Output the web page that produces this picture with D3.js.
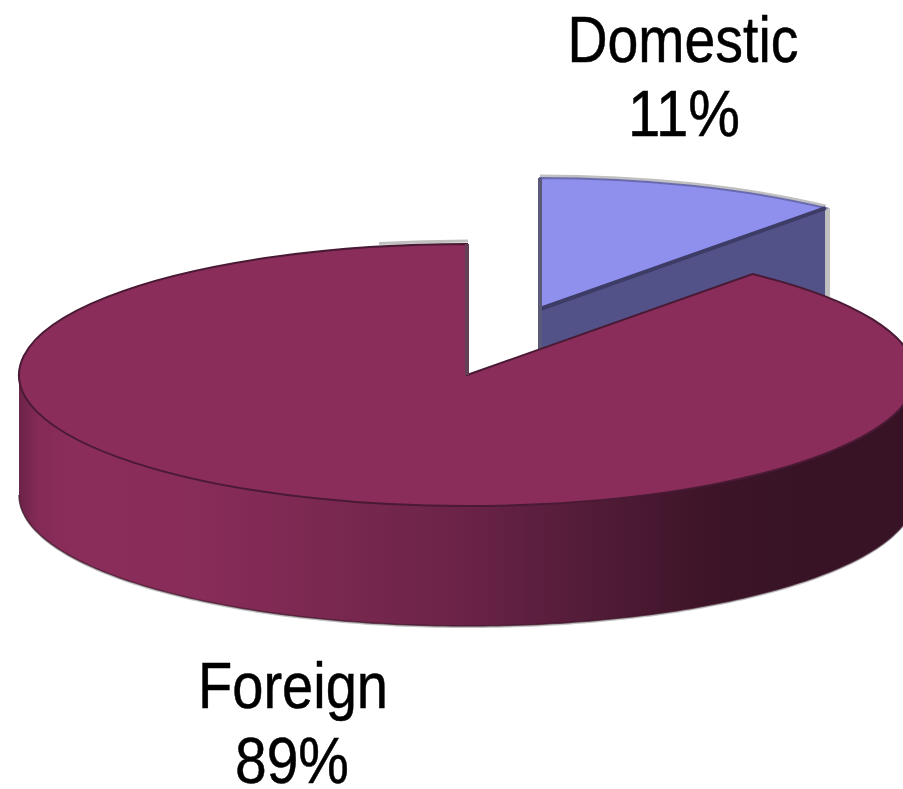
<!DOCTYPE html>
<html lang="en">
<head>
<meta charset="UTF-8">
<title>Domestic vs Foreign</title>
<script src="https://cdnjs.cloudflare.com/ajax/libs/d3/7.8.5/d3.min.js"></script>
<style>
    html, body { margin: 0; padding: 0; background: #fff; overflow: hidden; }
    text { font-family: "Liberation Sans", Arial, sans-serif; font-size: 64px; fill: #000; stroke: #000; stroke-width: 0.5px; }
</style>
</head>
<body>
<div id="chart"></div>
<script>
const categories = ["Domestic", "Foreign"];
const shares = [11, 89];

const width = 903, height = 789;
const cx = 467, cy = 375;      // centre of the pie top
const rx = 448, ry = 131;      // tilted ellipse
const depth = 120;             // height of the wall
const explode = { x: 73, y: -66 };   // Domestic slice is pulled out

const svg = d3.select("#chart").append("svg")
    .attr("width", width)
    .attr("height", height)
    .style("display", "block");

// wall shading runs left to right, in the coordinates of the pie group
const grad = svg.append("defs").append("linearGradient")
    .attr("id", "wall")
    .attr("gradientUnits", "userSpaceOnUse")
    .attr("x1", 19 - cx).attr("x2", 903 - cx).attr("y1", 0).attr("y2", 0);
[[0, "#6b2348"], [0.02, "#832a55"], [0.06, "#8b2d5b"], [0.2, "#882c59"], [0.35, "#7a2850"],
 [0.5, "#6b2347"], [0.66, "#501b36"], [0.78, "#3d1428"], [0.88, "#381326"], [1, "#381326"]]
    .forEach(s => grad.append("stop").attr("offset", s[0]).attr("stop-color", s[1]));

const slices = d3.pie().sort(null)(shares);
const arc = d3.arc().innerRadius(0).outerRadius(rx);
const rim = d3.arc().innerRadius(rx).outerRadius(rx);
const squash = `scale(1,${ry / rx})`;

// d3 arc angles: 0 is up, clockwise
const px = a => Math.sin(a) * rx;
const py = a => -Math.cos(a) * ry;

function drawTop(g, d, fill, stroke) {
    g.append("path")
        .attr("d", arc(d))
        .attr("transform", squash)
        .attr("fill", fill)
        .attr("stroke", stroke)
        .attr("stroke-width", 2)
        .attr("vector-effect", "non-scaling-stroke");
}

function drawEdge(g, a, b, colour, w) {
    g.append("path")
        .attr("d", d3.line()([a, b]))
        .attr("stroke", colour)
        .attr("stroke-width", w);
}

// ---- Domestic, drawn first because Foreign covers its wall
const dom = svg.append("g").attr("transform", `translate(${cx + explode.x},${cy + explode.y})`);
const domEnd = slices[0].endAngle;
const corner = [px(domEnd), py(domEnd)];
const cut = [[0, 0], corner, [corner[0], corner[1] + depth], [0, depth]];

dom.append("path")
    .attr("d", d3.line()(cut) + "Z")
    .attr("fill", "#525288");
drawEdge(dom, [corner[0] + 2, corner[1]], [corner[0] + 2, corner[1] + depth], "#c0c0c0", 5);
dom.append("path")
    .attr("d", rim(slices[0]))
    .attr("transform", `translate(0,-2) ${squash}`)
    .attr("fill", "none")
    .attr("stroke", "#c0c0c0")
    .attr("stroke-width", 3)
    .attr("vector-effect", "non-scaling-stroke");
drawTop(dom, slices[0], "#8f8fee", "#6a6ab0");
drawEdge(dom, [0, 0], corner, "#3c3c66", 4);
drawEdge(dom, [0, -ry], [0, depth], "#5a5a78", 4);

// ---- Foreign
const fore = svg.append("g").attr("transform", `translate(${cx},${cy})`);
const front = d3.range(90, 270.5, 1).map(a => a * Math.PI / 180);   // only the front part shows

const wall = d3.area()
    .x(a => px(a))
    .y0(a => py(a))
    .y1(a => py(a) + depth);

// grey fringe under the wall
fore.append("path")
    .attr("d", wall(front))
    .attr("transform", "translate(0,2)")
    .attr("fill", "#c0c0c0");
fore.append("path")
    .attr("d", wall(front))
    .attr("fill", "url(#wall)");

const edge = d3.line().x(a => px(a)).y(a => py(a) + depth);
fore.append("path")
    .attr("d", edge(front))
    .attr("fill", "none")
    .attr("stroke", "#3d1428")
    .attr("stroke-opacity", 0.7)
    .attr("stroke-width", 1.5);

// small grey rim on the back of the top
fore.append("path")
    .attr("d", rim({ startAngle: -0.2, endAngle: 0 }))
    .attr("transform", `translate(1,-3) ${squash}`)
    .attr("fill", "none")
    .attr("stroke", "#c0c0c0")
    .attr("stroke-width", 3)
    .attr("vector-effect", "non-scaling-stroke");

drawTop(fore, slices[1], "#8b2d5b", "#4a1a35");
drawEdge(fore, [0, -ry], [0, 0], "#634055", 4);

// ---- labels, the original text is squeezed horizontally
const labels = [
    { text: categories[0], x: 683, y: 62, w: 231 },
    { text: shares[0] + "%", x: 684, y: 136, w: 112 },
    { text: categories[1], x: 293, y: 708, w: 190 },
    { text: shares[1] + "%", x: 292, y: 783, w: 114 }
];

svg.selectAll("text.lbl")
    .data(labels)
    .join("text")
    .attr("class", "lbl")
    .attr("x", d => d.x)
    .attr("y", d => d.y)
    .attr("text-anchor", "middle")
    .attr("textLength", d => d.w)
    .attr("lengthAdjust", "spacingAndGlyphs")
    .text(d => d.text);
</script>
</body>
</html>
